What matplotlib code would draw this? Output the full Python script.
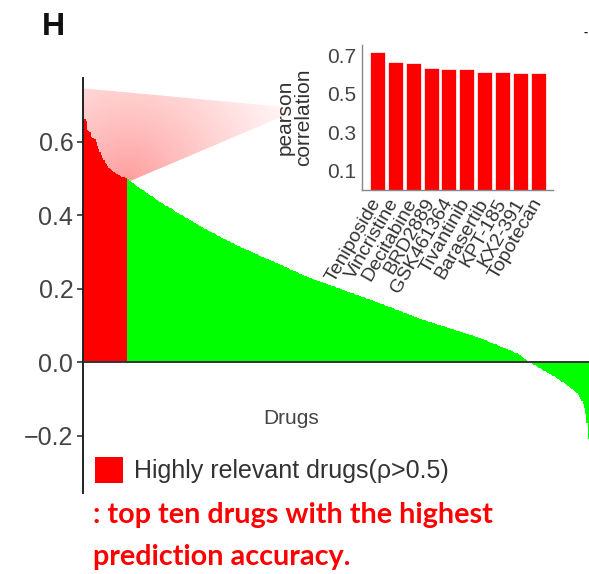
import numpy as np
import matplotlib.pyplot as plt
from matplotlib.patches import Patch, Polygon

plt.rcParams['font.family'] = ['Liberation Sans', 'DejaVu Sans']

# ten drugs with the highest pearson correlation
top_drugs = ["Teniposide", "Vincristine", "Decitabine", "BRD2889", "GSK461364",
             "Tivantinib", "Barasertib", "KPT-185", "KX2-391", "Topotecan"]
top_corr = [0.715, 0.662, 0.657, 0.631, 0.629, 0.627, 0.613, 0.611, 0.609, 0.607]

# remaining drugs, sorted from high to low correlation
other_corr = [
    0.598, 0.588, 0.579, 0.571, 0.563, 0.556, 0.549, 0.543, 0.538, 0.533,
    0.529, 0.525, 0.522, 0.519, 0.517, 0.515, 0.513, 0.511, 0.509, 0.507,
    0.505, 0.504, 0.503, 0.502, 0.501, 0.497, 0.494, 0.492, 0.489, 0.487,
    0.485, 0.482, 0.480, 0.477, 0.475, 0.472, 0.470, 0.468, 0.465, 0.463,
    0.460, 0.458, 0.456, 0.453, 0.451, 0.448, 0.446, 0.444, 0.441, 0.439,
    0.437, 0.435, 0.433, 0.431, 0.428, 0.426, 0.424, 0.422, 0.420, 0.418,
    0.416, 0.414, 0.412, 0.409, 0.407, 0.405, 0.403, 0.401, 0.399, 0.397,
    0.395, 0.393, 0.391, 0.389, 0.387, 0.385, 0.383, 0.381, 0.379, 0.377,
    0.375, 0.373, 0.371, 0.369, 0.367, 0.365, 0.363, 0.361, 0.359, 0.357,
    0.355, 0.353, 0.352, 0.350, 0.348, 0.346, 0.344, 0.343, 0.341, 0.339,
    0.337, 0.336, 0.334, 0.332, 0.330, 0.329, 0.327, 0.325, 0.323, 0.322,
    0.320, 0.318, 0.316, 0.315, 0.313, 0.311, 0.310, 0.308, 0.307, 0.305,
    0.304, 0.302, 0.301, 0.299, 0.298, 0.296, 0.295, 0.293, 0.292, 0.290,
    0.289, 0.287, 0.286, 0.284, 0.283, 0.281, 0.280, 0.278, 0.277, 0.275,
    0.274, 0.272, 0.271, 0.269, 0.268, 0.266, 0.265, 0.263, 0.261, 0.260,
    0.258, 0.257, 0.255, 0.254, 0.252, 0.251, 0.249, 0.248, 0.246, 0.244,
    0.243, 0.241, 0.240, 0.238, 0.237, 0.235, 0.234, 0.232, 0.231, 0.229,
    0.228, 0.227, 0.226, 0.224, 0.223, 0.222, 0.221, 0.219, 0.218, 0.217,
    0.216, 0.214, 0.213, 0.212, 0.211, 0.209, 0.208, 0.207, 0.206, 0.204,
    0.203, 0.202, 0.201, 0.199, 0.198, 0.197, 0.196, 0.194, 0.193, 0.192,
    0.191, 0.189, 0.188, 0.187, 0.186, 0.184, 0.183, 0.182, 0.181, 0.179,
    0.178, 0.177, 0.176, 0.174, 0.173, 0.172, 0.171, 0.169, 0.168, 0.167,
    0.166, 0.164, 0.163, 0.162, 0.161, 0.159, 0.158, 0.157, 0.156, 0.154,
    0.153, 0.151, 0.150, 0.149, 0.147, 0.146, 0.145, 0.143, 0.142, 0.141,
    0.139, 0.138, 0.137, 0.135, 0.134, 0.133, 0.131, 0.130, 0.129, 0.127,
    0.126, 0.125, 0.123, 0.122, 0.121, 0.119, 0.118, 0.117, 0.116, 0.115,
    0.114, 0.112, 0.111, 0.110, 0.109, 0.108, 0.107, 0.106, 0.105, 0.104,
    0.102, 0.101, 0.100, 0.099, 0.098, 0.097, 0.096, 0.095, 0.094, 0.093,
    0.091, 0.090, 0.089, 0.088, 0.087, 0.086, 0.085, 0.084, 0.083, 0.082,
    0.080, 0.079, 0.078, 0.077, 0.076, 0.075, 0.074, 0.073, 0.071, 0.070,
    0.069, 0.068, 0.067, 0.066, 0.065, 0.063, 0.062, 0.060, 0.059, 0.058,
    0.056, 0.055, 0.053, 0.052, 0.050, 0.049, 0.048, 0.046, 0.045, 0.043,
    0.042, 0.040, 0.039, 0.038, 0.036, 0.035, 0.033, 0.032, 0.031, 0.029,
    0.028, 0.026, 0.025, 0.024, 0.022, 0.020, 0.017, 0.015, 0.012, 0.009,
    0.006, 0.003, 0.001, -0.001, -0.003, -0.005, -0.007, -0.009, -0.011, -0.013,
    -0.015, -0.017, -0.019, -0.021, -0.023, -0.025, -0.027, -0.029, -0.031, -0.033,
    -0.035, -0.037, -0.039, -0.041, -0.043, -0.046, -0.048, -0.050, -0.053, -0.055,
    -0.058, -0.060, -0.063, -0.065, -0.068, -0.070, -0.073, -0.075, -0.078, -0.081,
    -0.085, -0.089, -0.094, -0.100, -0.107, -0.115, -0.125, -0.140, -0.165, -0.210,
]
drug_corr = top_corr + other_corr
threshold = 0.5

main_ticks = [-0.2, 0.0, 0.2, 0.4, 0.6]
inset_ticks = [0.1, 0.3, 0.5, 0.7]

RED = "#ff0000"
GREEN = "#00ff00"
W, H = 589, 574


def fig_box(x0, y0, x1, y1):
    # pixel box (top-left origin) -> figure fraction rect
    return [x0 / W, 1 - y1 / H, (x1 - x0) / W, (y1 - y0) / H]


fig = plt.figure(figsize=(W / 100, H / 100), dpi=100)

# ---- main sorted bar chart ----
ax = fig.add_axes(fig_box(83, 78, 589, 493))
vals = np.array(drug_corr)
idx = np.arange(len(vals))
colors = np.where(vals > threshold, RED, GREEN)
ax.bar(idx, vals, width=1.0, color=colors, linewidth=0, antialiased=False, zorder=2)

# faded red cone pointing from the red block towards the inset
n_hi = int((vals > threshold).sum())
gx = np.linspace(-0.5, 200, 400)
gy = np.linspace(0.40, 0.773, 200)
GX, GY = np.meshgrid(gx, gy)
r = np.hypot((GX - n_hi) * 1.265, (GY - 0.49) * 367.5)
rgba = np.zeros(GX.shape + (4,))
rgba[..., 0] = 1.0
rgba[..., 1] = 0.15
rgba[..., 2] = 0.15
rgba[..., 3] = 0.45 * np.clip(1 - r / 210, 0, 1) ** 1.3
img = ax.imshow(rgba, extent=(gx[0], gx[-1], gy[0], gy[-1]), origin="lower",
                aspect="auto", zorder=1, interpolation="bilinear")
cone = Polygon([(-0.5, 0.745), (-0.5, 0.45), (n_hi, 0.49), (172, 0.69)],
               closed=True, fc="none", ec="none", transform=ax.transData)
ax.add_patch(cone)
img.set_clip_path(cone)

ax.axhline(0, color="#333333", lw=1.4, zorder=3)
ax.set_xlim(-0.5, len(vals) - 0.5)
ax.set_ylim(-0.356, 0.773)
ax.set_xticks([])
ax.set_yticks(main_ticks)
ax.set_yticklabels([f"{t:.1f}".replace("-", "\u2212") for t in main_ticks])
ax.tick_params(axis="y", length=4, width=1.1, pad=3, labelsize=18,
               labelcolor="#444444", color="#222222")
for side in ["top", "right", "bottom"]:
    ax.spines[side].set_visible(False)
ax.spines["left"].set_color("#222222")
ax.spines["left"].set_linewidth(1.4)

fig.text(291 / W, 1 - 419 / H, "Drugs", ha="center", va="center",
         fontsize=15, color="#444444")

fig.legend(handles=[Patch(facecolor=RED, edgecolor="none",
                          label="Highly relevant drugs(\u03c1>0.5)")],
           loc="center left", bbox_to_anchor=(95 / W, 1 - 470 / H),
           frameon=False, fontsize=18, handlelength=1.1, handleheight=1.2,
           handletextpad=0.45, borderpad=0, borderaxespad=0,
           labelcolor="#333333")

# ---- inset: top ten drugs ----
axin = fig.add_axes(fig_box(362, 45, 553, 190))
axin.set_facecolor("none")
axin.bar(np.arange(len(top_corr)), top_corr, width=0.84, color=RED,
         edgecolor="white", linewidth=0.5)
axin.set_xlim(-0.87, len(top_corr) - 0.16)
axin.set_ylim(0, 0.752)
axin.set_yticks(inset_ticks)
axin.set_xticks(np.arange(len(top_drugs)))
axin.set_xticklabels(top_drugs, rotation=60, ha="right", va="center",
                     rotation_mode="anchor", fontsize=14, color="#333333")
axin.tick_params(axis="x", length=0, pad=7)
axin.tick_params(axis="y", length=0, pad=4, labelsize=15, labelcolor="#444444")
for side in ["top", "right"]:
    axin.spines[side].set_visible(False)
for side in ["left", "bottom"]:
    axin.spines[side].set_color("#888888")
    axin.spines[side].set_linewidth(1.0)
axin.set_ylabel("pearson\ncorrelation", fontsize=15, color="#333333",
                linespacing=0.95, labelpad=10)

# ---- panel letter and caption ----
fig.text(42 / W, 1 - 35 / H, "H", fontsize=23, fontweight="bold",
         va="baseline", color="#111111")
fig.text(588 / W, 1 - 36 / H, "-", fontsize=9, fontweight="bold",
         ha="right", va="baseline", color="#111111")
fig.text(93 / W, 1 - 523 / H, ": top ten drugs with the highest",
         family="Lato", fontweight="bold", fontsize=20.7, color=RED, va="baseline")
fig.text(93 / W, 1 - 565 / H, "prediction accuracy.",
         family="Lato", fontweight="bold", fontsize=20.7, color=RED, va="baseline")

fig.savefig("out.png", dpi=100)
